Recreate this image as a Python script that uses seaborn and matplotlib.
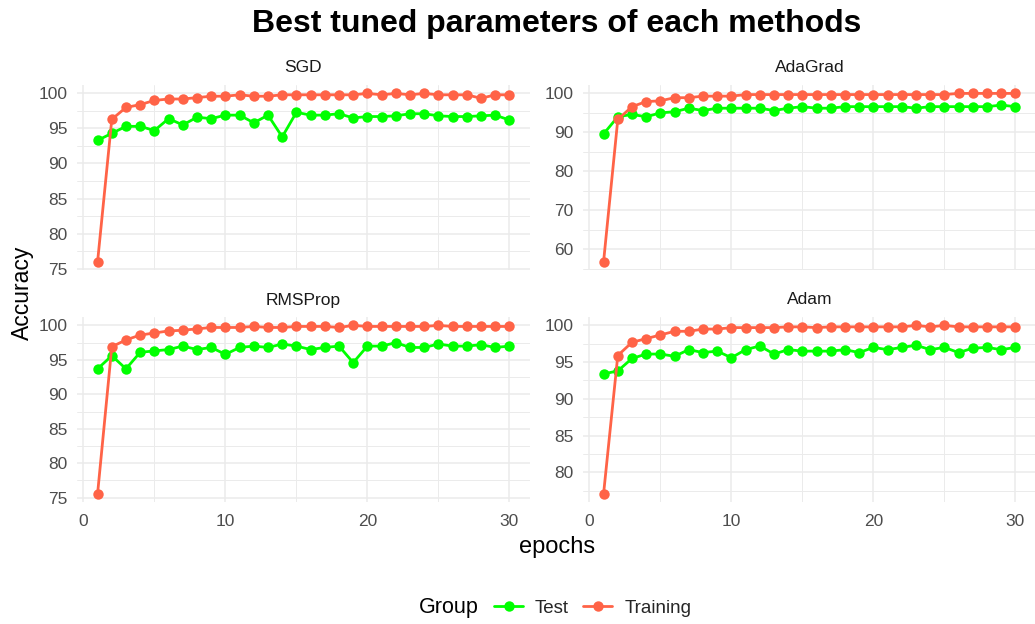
import numpy as np
import pandas as pd
import matplotlib
matplotlib.use("Agg")
import matplotlib.pyplot as plt
from matplotlib.ticker import MultipleLocator
from matplotlib.lines import Line2D
import seaborn as sns

epochs = list(range(1, 31))

methods = ["SGD", "AdaGrad", "RMSProp", "Adam"]

sgd_train = [76.0, 96.3, 98.0, 98.4, 99.0, 99.2, 99.2, 99.4, 99.6, 99.6,
             99.8, 99.6, 99.6, 99.8, 99.8, 99.8, 99.8, 99.8, 99.8, 100.0,
             99.8, 100.0, 99.8, 100.0, 99.8, 99.8, 99.8, 99.3, 99.8, 99.8]
sgd_test = [93.3, 94.3, 95.3, 95.3, 94.7, 96.4, 95.5, 96.6, 96.4, 96.9,
            96.9, 95.8, 96.9, 93.8, 97.3, 96.9, 96.9, 97.1, 96.5, 96.7,
            96.7, 96.8, 97.1, 97.1, 96.8, 96.7, 96.7, 96.8, 96.9, 96.2]

adagrad_train = [56.8, 93.3, 96.6, 97.9, 98.1, 98.9, 98.9, 99.3, 99.3, 99.3,
                 99.7, 99.7, 99.7, 99.7, 99.7, 99.7, 99.7, 99.7, 99.7, 99.7,
                 99.7, 99.7, 99.7, 99.7, 99.7, 100.0, 100.0, 100.0, 100.0, 100.0]
adagrad_test = [89.6, 94.0, 94.6, 94.0, 95.0, 95.3, 96.2, 95.6, 96.2, 96.2,
                96.2, 96.2, 95.6, 96.2, 96.6, 96.2, 96.2, 96.6, 96.6, 96.6,
                96.6, 96.6, 96.2, 96.6, 96.6, 96.6, 96.6, 96.6, 97.0, 96.6]

rmsprop_train = [75.6, 96.9, 97.9, 98.6, 98.9, 99.2, 99.3, 99.5, 99.7, 99.7,
                 99.7, 99.85, 99.7, 99.7, 99.85, 99.85, 99.85, 99.7, 100.0, 99.85,
                 99.85, 99.85, 99.85, 99.85, 100.0, 99.85, 99.85, 99.85, 99.85, 99.85]
rmsprop_test = [93.7, 95.6, 93.7, 96.1, 96.3, 96.5, 97.0, 96.5, 96.8, 95.8,
                96.8, 97.0, 96.8, 97.3, 97.0, 96.5, 96.8, 97.0, 94.6, 97.0,
                97.0, 97.5, 96.8, 96.8, 97.3, 97.0, 97.0, 97.2, 96.8, 97.0]

adam_train = [77.1, 95.9, 97.7, 98.2, 98.7, 99.2, 99.2, 99.5, 99.5, 99.7,
              99.7, 99.7, 99.7, 99.8, 99.8, 99.7, 99.8, 99.8, 99.8, 99.8,
              99.8, 99.8, 100.0, 99.8, 100.0, 99.8, 99.8, 99.8, 99.8, 99.8]
adam_test = [93.4, 93.8, 95.5, 96.1, 96.1, 95.8, 96.7, 96.3, 96.5, 95.6,
             96.7, 97.2, 96.1, 96.7, 96.5, 96.5, 96.5, 96.7, 96.3, 97.0,
             96.7, 97.0, 97.3, 96.7, 97.0, 96.3, 96.9, 97.0, 96.7, 97.0]

groups = ["Test", "Training"]
group_colors = {"Test": "#00FF00", "Training": "#FF6347"}
y_steps = {"SGD": 5, "AdaGrad": 10, "RMSProp": 5, "Adam": 5}

series = {
    "SGD": (sgd_test, sgd_train),
    "AdaGrad": (adagrad_test, adagrad_train),
    "RMSProp": (rmsprop_test, rmsprop_train),
    "Adam": (adam_test, adam_train),
}

rows = []
for m in methods:
    test_vals, train_vals = series[m]
    for e, v in zip(epochs, test_vals):
        rows.append({"method": m, "epochs": e, "Accuracy": v, "Group": "Test"})
    for e, v in zip(epochs, train_vals):
        rows.append({"method": m, "epochs": e, "Accuracy": v, "Group": "Training"})
df = pd.DataFrame(rows)

sns.set_theme(style="white")
plt.rcParams["font.family"] = ["Liberation Sans", "DejaVu Sans"]

W, H = 1035, 624
fig = plt.figure(figsize=(W / 100, H / 100), dpi=100, facecolor="white")

def frac_box(x0, y0, x1, y1):
    return [x0 / W, 1 - y1 / H, (x1 - x0) / W, (y1 - y0) / H]

boxes = {
    "SGD": frac_box(77, 85, 530, 270),
    "AdaGrad": frac_box(583, 85, 1036, 270),
    "RMSProp": frac_box(77, 317, 530, 502),
    "Adam": frac_box(583, 317, 1036, 502),
}

grid_col = "#EBEBEB"
tick_col = "#4D4D4D"

for m in methods:
    ax = fig.add_axes(boxes[m])
    sub = df[df["method"] == m]
    sns.lineplot(data=sub, x="epochs", y="Accuracy", hue="Group",
                 hue_order=groups, palette=group_colors, marker="o",
                 markersize=7.5, markeredgewidth=0, linewidth=2.0,
                 ax=ax, legend=False, zorder=3)
    ax.margins(x=0.05, y=0.05)
    ax.set_xlim(-0.45, 31.45)
    ax.xaxis.set_major_locator(MultipleLocator(10))
    ax.xaxis.set_minor_locator(MultipleLocator(5))
    ax.yaxis.set_major_locator(MultipleLocator(y_steps[m]))
    ax.yaxis.set_minor_locator(MultipleLocator(y_steps[m] / 2))
    ax.grid(which="major", color=grid_col, linewidth=1.1)
    ax.grid(which="minor", color=grid_col, linewidth=0.7)
    ax.set_axisbelow(True)
    for s in ax.spines.values():
        s.set_visible(False)
    ax.set_xlabel("")
    ax.set_ylabel("")
    ax.tick_params(which="both", length=0)
    ax.tick_params(axis="y", labelsize=12.5, labelcolor=tick_col, pad=7)
    ax.tick_params(axis="x", labelsize=12.5, labelcolor=tick_col, pad=8.5)
    if m in ("SGD", "AdaGrad"):
        ax.tick_params(axis="x", labelbottom=False)
    ax.set_facecolor("white")
    ax.set_title(m, fontsize=12.5, color="#1A1A1A", pad=9)

fig.text(557 / W, 1 - 24 / H, "Best tuned parameters of each methods",
         ha="center", va="center", fontsize=23, fontweight="bold", color="black")
fig.text(557 / W, 1 - 547 / H, "epochs", ha="center", va="center",
         fontsize=17, color="black")
fig.text(22 / W, 1 - 293 / H, "Accuracy", ha="center", va="center",
         rotation=90, fontsize=16.5, color="black")

fig.text(419 / W, 1 - 608 / H, "Group", ha="left", va="center",
         fontsize=15.5, color="black")
handles = [Line2D([0], [0], color=group_colors[g], linewidth=2.0, marker="o",
                  markersize=7.5, markeredgewidth=0) for g in groups]
fig.legend(handles, groups, ncol=2, loc="center left",
           bbox_to_anchor=(494 / W, 1 - 608 / H), frameon=False,
           fontsize=13.5, handlelength=1.55, handletextpad=0.64,
           columnspacing=0.75, borderpad=0, borderaxespad=0)

fig.savefig("out.png", dpi=100, facecolor="white")
